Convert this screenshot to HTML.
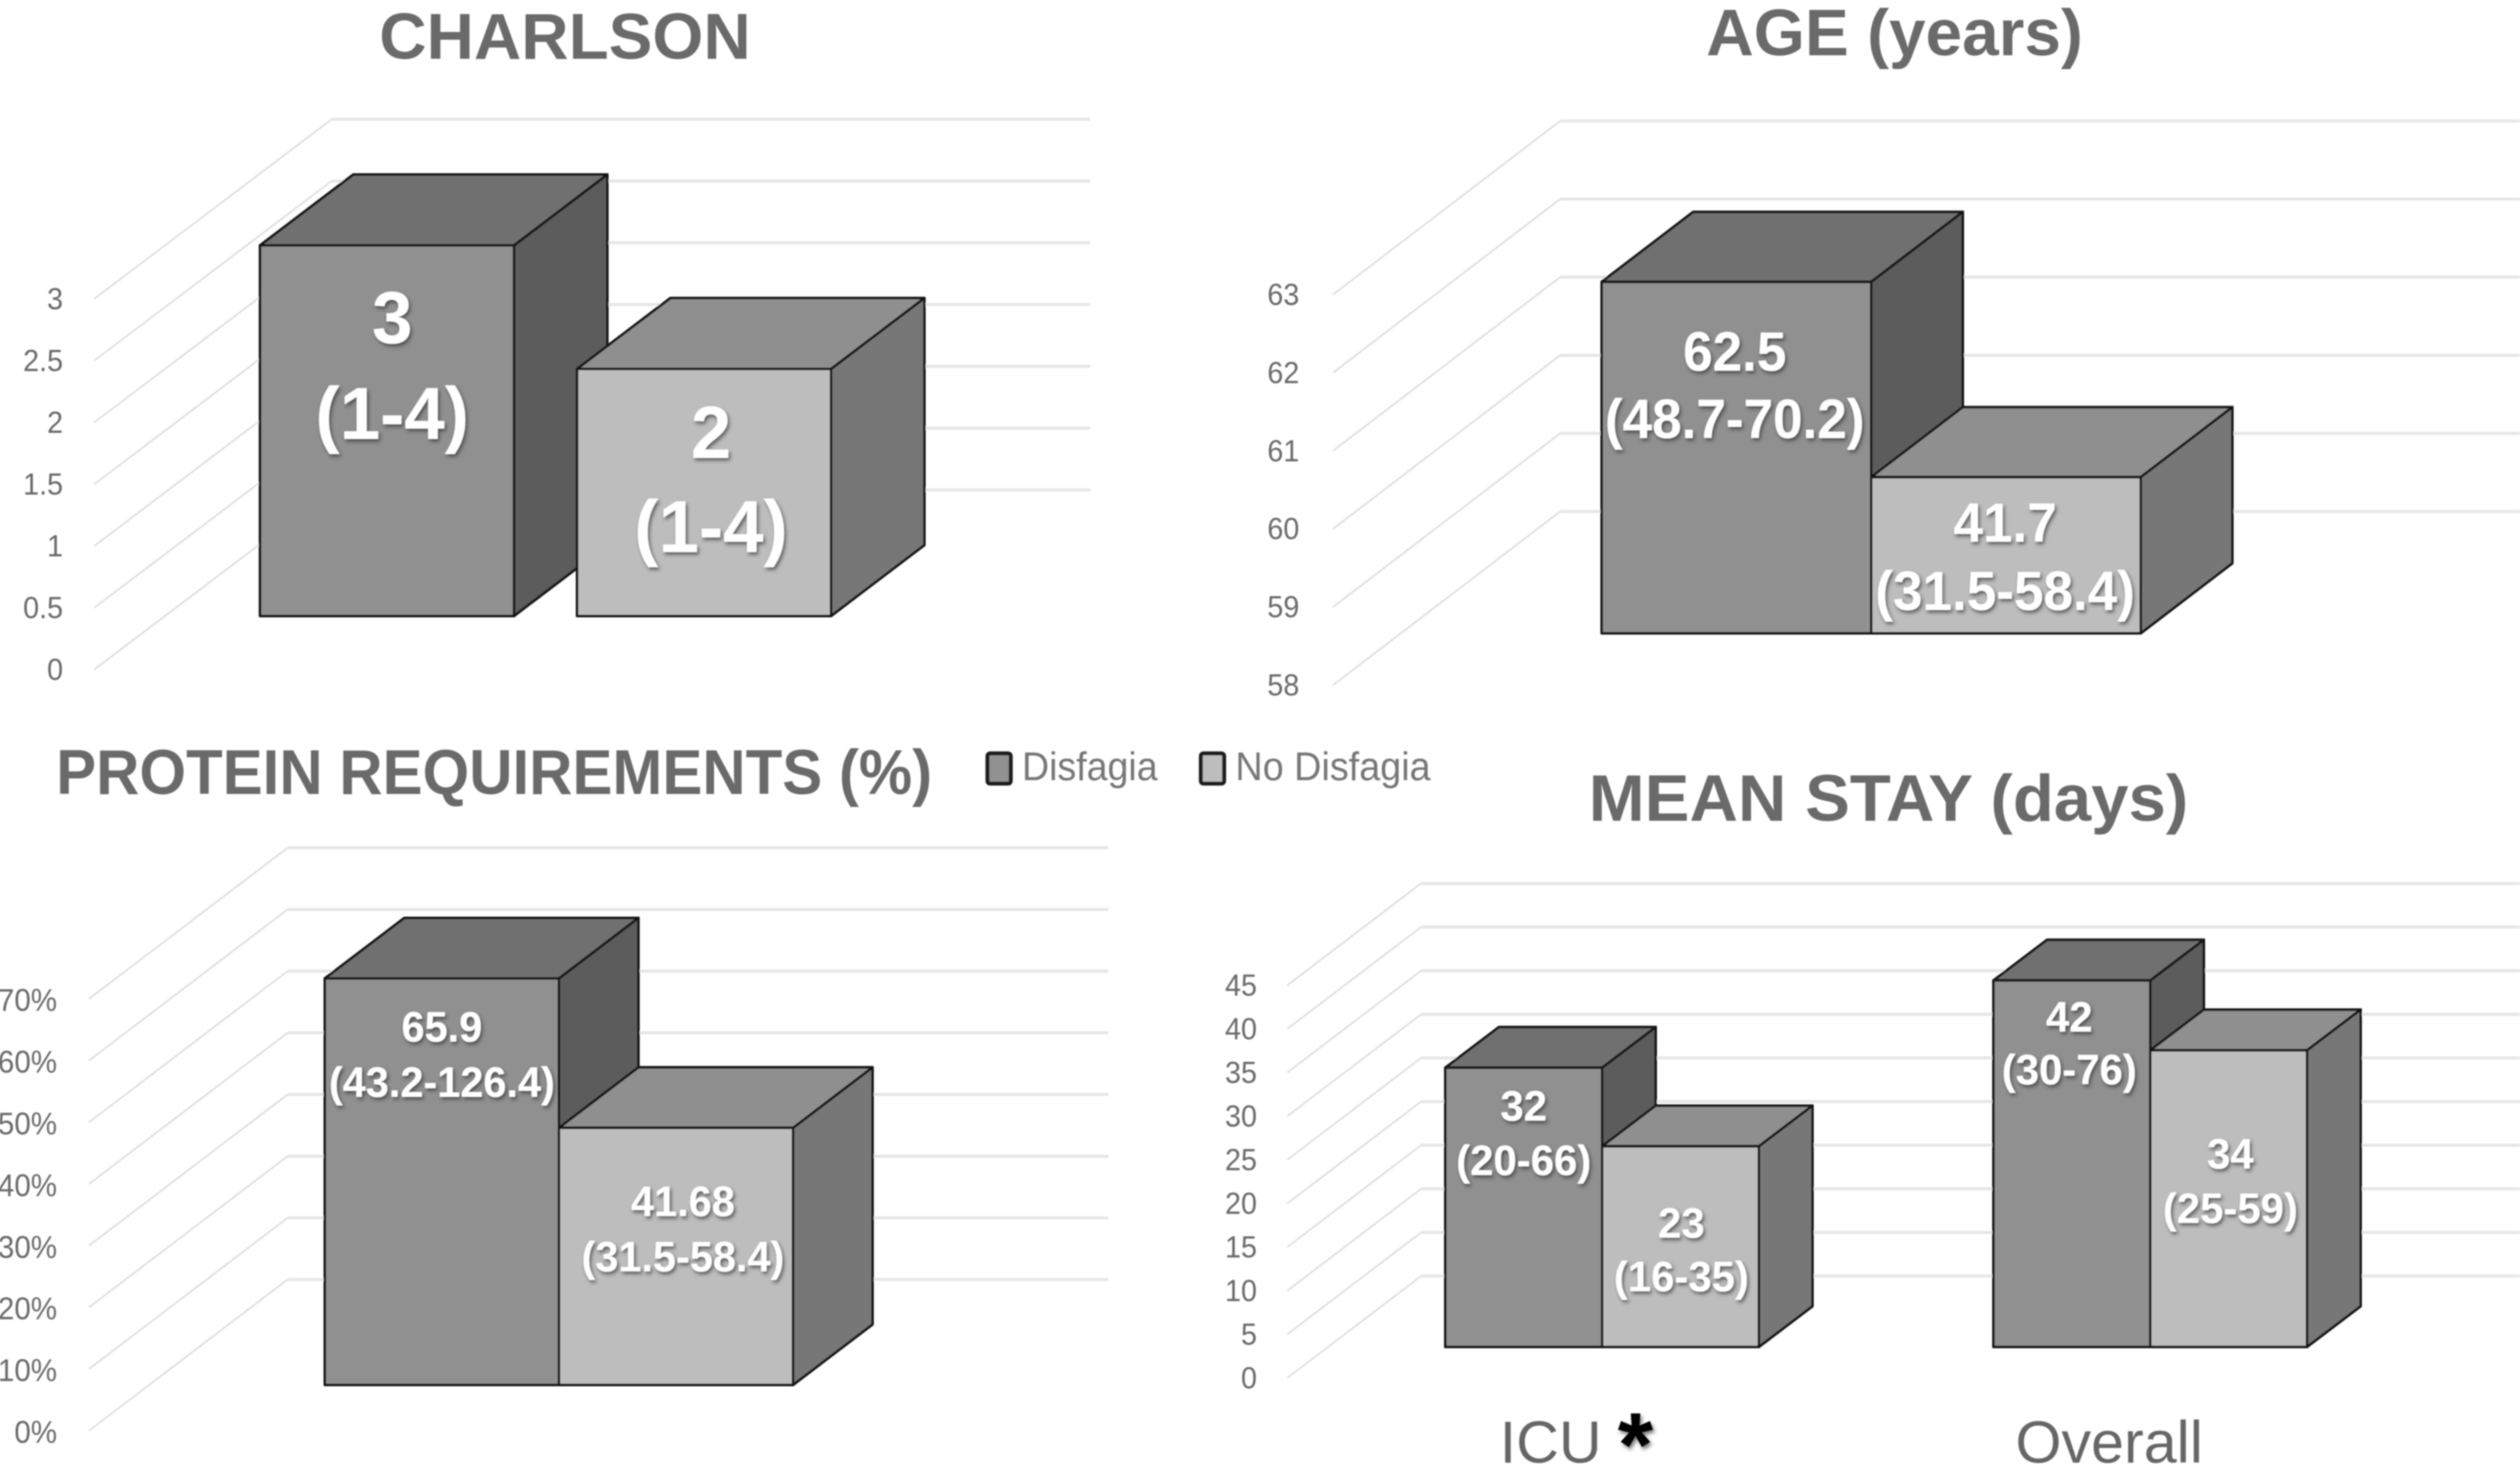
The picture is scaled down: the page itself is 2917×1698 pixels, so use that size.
<!DOCTYPE html>
<html lang="en">
<head>
<meta charset="utf-8">
<title>Disfagia charts</title>
<style>
html,body{margin:0;padding:0;background:#fff;width:2917px;height:1698px;overflow:hidden}
svg{display:block}
text{font-family:"Liberation Sans",sans-serif}
</style>
</head>
<body>
<svg id="figure" xmlns="http://www.w3.org/2000/svg" width="2917" height="1698" viewBox="0 0 2917 1698">
  <defs>
    <filter id="soft" x="-2%" y="-2%" width="104%" height="104%"><feGaussianBlur stdDeviation="0.8"/></filter>
    <filter id="labelShadow" x="-20%" y="-30%" width="140%" height="170%"><feDropShadow dx="2" dy="3" stdDeviation="2.2" flood-color="#2a2a2a" flood-opacity="0.65"/></filter>
  </defs>
  <rect width="2917" height="1698" fill="#ffffff"/>
  <g id="root" filter="url(#soft)">
    <g id="legend">
      <g>
        <rect x="1143" y="872" width="27" height="35" rx="3" fill="#919191" stroke="#1c1c1c" stroke-width="4.5"/>
        <text x="1183" y="903" font-size="46" fill="#777777" textLength="157" lengthAdjust="spacingAndGlyphs">Disfagia</text>
      </g>
      <g>
        <rect x="1390" y="872" width="27" height="35" rx="3" fill="#bdbdbd" stroke="#1c1c1c" stroke-width="4.5"/>
        <text x="1430" y="903" font-size="46" fill="#777777" textLength="226" lengthAdjust="spacingAndGlyphs">No Disfagia</text>
      </g>
    </g>
  </g>
</svg>
<script>
// ---- Chart data ----
const charlsonTicks = ['0', '0.5', '1', '1.5', '2', '2.5', '3'];
const charlsonDisfagia = [3];
const charlsonNoDisfagia = [2];
const charlsonDisfagiaMedian = ['3'];
const charlsonNoDisfagiaMedian = ['2'];
const charlsonDisfagiaRange = ['(1-4)'];
const charlsonNoDisfagiaRange = ['(1-4)'];

const ageTicks = ['58', '59', '60', '61', '62', '63'];
const ageDisfagia = [62.5];
const ageNoDisfagia = [60];
const ageDisfagiaMedian = ['62.5'];
const ageNoDisfagiaMedian = ['41.7'];
const ageDisfagiaRange = ['(48.7-70.2)'];
const ageNoDisfagiaRange = ['(31.5-58.4)'];

const proteinTicks = ['0%', '10%', '20%', '30%', '40%', '50%', '60%', '70%'];
const proteinDisfagia = [65.9];
const proteinNoDisfagia = [41.68];
const proteinDisfagiaMedian = ['65.9'];
const proteinNoDisfagiaMedian = ['41.68'];
const proteinDisfagiaRange = ['(43.2-126.4)'];
const proteinNoDisfagiaRange = ['(31.5-58.4)'];

const stayCategories = ['ICU', 'Overall'];
const stayTicks = ['0', '5', '10', '15', '20', '25', '30', '35', '40', '45'];
const stayDisfagia = [32, 42];
const stayNoDisfagia = [23, 34];
const stayDisfagiaMedian = ['32', '42'];
const stayNoDisfagiaMedian = ['23', '34'];
const stayDisfagiaRange = ['(20-66)', '(30-76)'];
const stayNoDisfagiaRange = ['(16-35)', '(25-59)'];

// ---- Layout (geometry, not data) ----
const SVGNS = 'http://www.w3.org/2000/svg';
const root = document.getElementById('root');

function make(tag, attrs, parent, text) {
  const node = document.createElementNS(SVGNS, tag);
  for (const key in attrs) node.setAttribute(key, attrs[key]);
  if (text !== undefined) node.textContent = text;
  parent.appendChild(node);
  return node;
}

const palette = [
  { front: '#909090', side: '#5c5c5c', top: '#6f6f6f' },
  { front: '#bdbdbd', side: '#777777', top: '#8f8f8f' }
];

function drawChart(c) {
  const group = make('g', {}, root);
  
  

  const title = make('text', {
    x: c.titleX, y: c.titleY, 'font-size': c.titleSize, 'font-weight': 'bold', fill: '#6b6b6b',
    textLength: c.titleWidth, lengthAdjust: 'spacingAndGlyphs'
  }, group, c.title);
  
  

  const minVal = parseFloat(c.ticks[0]);
  const frontY = v => c.tickBase - (v - minVal) * c.unit;
  const barY = v => c.barBase - (v - minVal) * c.unit;
  const backX = c.tickX + c.wallDx;

  c.ticks.forEach(function (label) {
    const v = parseFloat(label);
    const y = frontY(v);
    const grid = make('line', {
      x1: backX, y1: y + c.wallDy, x2: c.gridRight, y2: y + c.wallDy, stroke: '#e6e6e6', 'stroke-width': 3.5
    }, group);
    
    
    const diag = make('line', {
      x1: c.tickX, y1: y, x2: backX, y2: y + c.wallDy, stroke: '#dedede', 'stroke-width': 2
    }, group);
    
    
    const tick = make('text', {
      transform: 'translate(' + c.labelRight + ' ' + (y + c.labelDy) + ') scale(0.95 1)',
      'font-size': c.labelSize, fill: '#6a6a6a', 'text-anchor': 'end'
    }, group, label);
    
    
  });

  c.series.forEach(function (s, si) {
    s.values.forEach(function (v, ci) {
      const x0 = c.groupX[ci] + si * c.seriesStep;
      const x1 = x0 + c.barW;
      const yTop = barY(v);
      const yBot = c.barBase;
      const dx = c.depthX;
      const dy = c.depthY;
      const colors = palette[si];
      const bar = make('g', { stroke: '#141414', 'stroke-width': 3, 'stroke-linejoin': 'round' }, group);
      
      
      make('polygon', {
        points: [x1, yTop, x1 + dx, yTop + dy, x1 + dx, yBot + dy, x1, yBot].join(' '), fill: colors.side
      }, bar);
      make('polygon', {
        points: [x0, yTop, x0 + dx, yTop + dy, x1 + dx, yTop + dy, x1, yTop].join(' '), fill: colors.top
      }, bar);
      make('rect', { x: x0, y: yTop, width: c.barW, height: yBot - yTop, fill: colors.front }, bar);

      const off = c.labelOffsets[si][ci];
      const cx = (x0 + x1) / 2 + off[0];
      const median = make('text', {
        transform: 'translate(' + cx + ' ' + (yTop + off[1]) + ') scale(' + c.valueScale + ' 1)',
        'font-size': c.valueSize, 'font-weight': 'bold', fill: '#ffffff',
        'text-anchor': 'middle', filter: 'url(#labelShadow)'
      }, group, s.medians[ci]);
      
      
      const range = make('text', {
        transform: 'translate(' + cx + ' ' + (yTop + off[2]) + ') scale(' + c.valueScale + ' 1)',
        'font-size': c.valueSize, 'font-weight': 'bold', fill: '#ffffff',
        'text-anchor': 'middle', filter: 'url(#labelShadow)'
      }, group, s.ranges[ci]);
      
      
    });
  });
  return group;
}

drawChart({
  slug: 'charlson', title: 'CHARLSON', titleX: 439, titleY: 68, titleSize: 75, titleWidth: 430,
  ticks: charlsonTicks, tickBase: 775, unit: 143, tickX: 109, wallDx: 275, wallDy: -208, gridRight: 1262,
  labelRight: 73, labelDy: 12, labelSize: 35,
  barBase: 713, barW: 294, groupX: [301], seriesStep: 367, depthX: 108, depthY: -82, valueSize: 85, valueScale: 0.99,
  labelOffsets: [[[6, 113, 224]], [[8, 103, 212]]],
  series: [
    { slug: 'disfagia', values: charlsonDisfagia, medians: charlsonDisfagiaMedian, ranges: charlsonDisfagiaRange },
    { slug: 'no-disfagia', values: charlsonNoDisfagia, medians: charlsonNoDisfagiaMedian, ranges: charlsonNoDisfagiaRange }
  ]
});

drawChart({
  slug: 'age', title: 'AGE (years)', titleX: 1975, titleY: 64, titleSize: 76, titleWidth: 436,
  ticks: ageTicks, tickBase: 793, unit: 90.4, tickX: 1543, wallDx: 263, wallDy: -201, gridRight: 2917,
  labelRight: 1504, labelDy: 12, labelSize: 35,
  barBase: 733, barW: 312, groupX: [1854], seriesStep: 312, depthX: 106, depthY: -81, valueSize: 64, valueScale: 0.96,
  labelOffsets: [[[-2, 103, 181]], [[-1, 75, 154]]],
  series: [
    { slug: 'disfagia', values: ageDisfagia, medians: ageDisfagiaMedian, ranges: ageDisfagiaRange },
    { slug: 'no-disfagia', values: ageNoDisfagia, medians: ageNoDisfagiaMedian, ranges: ageNoDisfagiaRange }
  ]
});

drawChart({
  slug: 'protein', title: 'PROTEIN REQUIREMENTS (%)', titleX: 65, titleY: 919, titleSize: 73, titleWidth: 1014,
  ticks: proteinTicks, tickBase: 1656, unit: 7.14, tickX: 103, wallDx: 230, wallDy: -175, gridRight: 1283,
  labelRight: 66, labelDy: 14, labelSize: 36,
  barBase: 1603, barW: 271, groupX: [376], seriesStep: 271, depthX: 92, depthY: -70, valueSize: 49, valueScale: 0.98,
  labelOffsets: [[[0, 73, 137]], [[8, 102, 166]]],
  series: [
    { slug: 'disfagia', values: proteinDisfagia, medians: proteinDisfagiaMedian, ranges: proteinDisfagiaRange },
    { slug: 'no-disfagia', values: proteinNoDisfagia, medians: proteinNoDisfagiaMedian, ranges: proteinNoDisfagiaRange }
  ]
});

drawChart({
  slug: 'mean-stay', title: 'MEAN STAY (days)', titleX: 1839, titleY: 950, titleSize: 76, titleWidth: 694,
  ticks: stayTicks, tickBase: 1595, unit: 10.1, tickX: 1490, wallDx: 155, wallDy: -118, gridRight: 2917,
  labelRight: 1455, labelDy: 12, labelSize: 35,
  barBase: 1559, barW: 181.5, groupX: [1673, 2307.5], seriesStep: 181.5, depthX: 62, depthY: -47, valueSize: 49, valueScale: 0.99,
  labelOffsets: [[[0, 61, 124], [-3, 59, 120]], [[1, 106, 168], [2, 137, 200]]],
  series: [
    { slug: 'disfagia', values: stayDisfagia, medians: stayDisfagiaMedian, ranges: stayDisfagiaRange },
    { slug: 'no-disfagia', values: stayNoDisfagia, medians: stayNoDisfagiaMedian, ranges: stayNoDisfagiaRange }
  ]
});

// Category labels for the mean stay chart
const icuLabel = make('text', { x: 1736, y: 1693, 'font-size': 69, fill: '#666666', textLength: 118, lengthAdjust: 'spacingAndGlyphs' }, root, stayCategories[0]);


const overallLabel = make('text', { x: 2333, y: 1693, 'font-size': 69, fill: '#666666', textLength: 217, lengthAdjust: 'spacingAndGlyphs' }, root, stayCategories[1]);


const asterisk = make('text', { x: 1893, y: 1708, 'font-size': 105, 'font-weight': 'bold', fill: '#000000', 'text-anchor': 'middle', filter: 'url(#labelShadow)' }, root, '*');


</script>
</body>
</html>
